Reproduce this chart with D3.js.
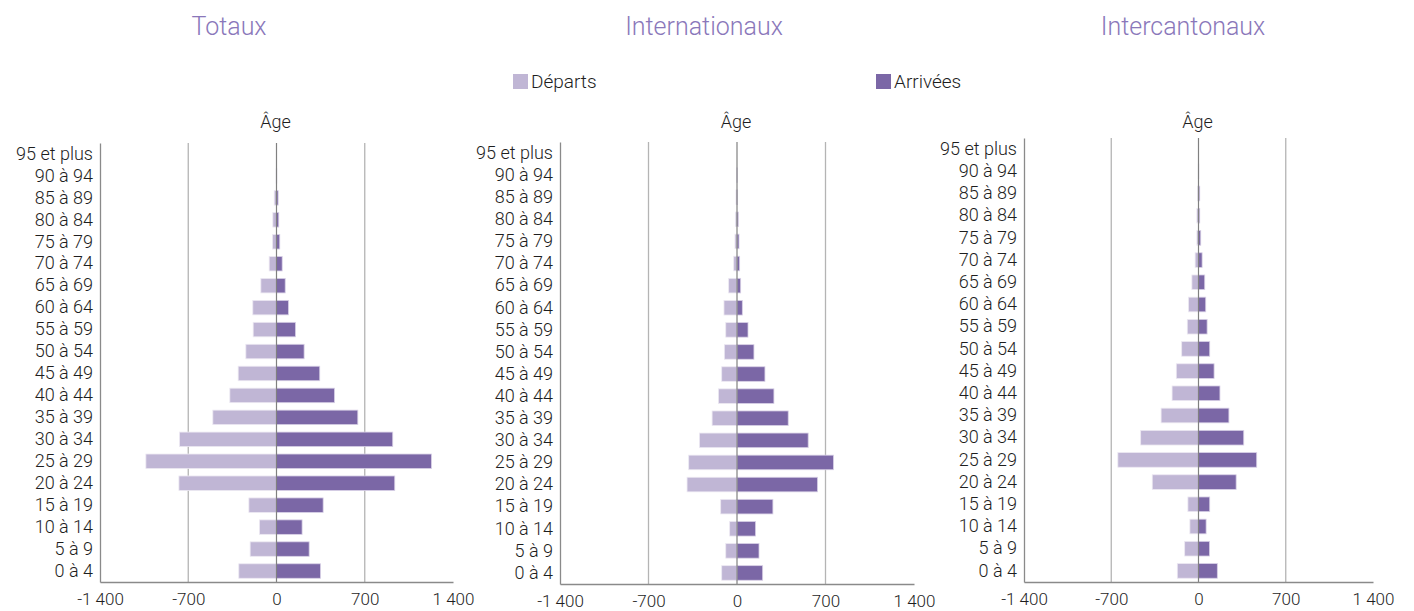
<!DOCTYPE html>
<html><head><meta charset="utf-8">
<script src="https://cdn.jsdelivr.net/npm/d3@7"></script>
<style>
body{margin:0;background:#fff;}
text{font-family:Roboto,"Liberation Sans",Arial,sans-serif;font-weight:300;fill:#1e1e1e;}
</style></head>
<body>
<svg id="chart" width="1414" height="611"></svg>
<script>
const categories = ["0 à 4","5 à 9","10 à 14","15 à 19","20 à 24","25 à 29","30 à 34","35 à 39","40 à 44","45 à 49","50 à 54","55 à 59","60 à 64","65 à 69","70 à 74","75 à 79","80 à 84","85 à 89","90 à 94","95 et plus"];
const panelTitles = ["Totaux","Internationaux","Intercantonaux"];
const seriesNames = ["Départs","Arrivées"];
const tickValues = [-1400,-700,0,700,1400];
const xDomain = [-1400,1400];

// Totaux
const totDeparts  = [299,209,135,219,774,1036,769,505,370,304,243,185,188,124,58,32,29,18,3,0];
const totArrivees = [349,259,203,370,938,1229,922,645,460,343,219,151,95,69,45,26,18,13,2,0];
// Internationaux
const intDeparts  = [121,89,58,129,395,382,297,197,147,121,100,89,103,66,26,16,13,8,1,0];
const intArrivees = [203,174,147,284,637,763,563,405,292,221,134,87,42,29,21,16,10,5,1,0];
// Intercantonaux
const icDeparts   = [170,111,69,85,371,647,464,300,212,178,135,90,80,53,27,13,13,8,2,0];
const icArrivees  = [151,88,61,90,302,467,363,244,172,125,90,69,58,50,29,18,10,10,2,0];

const panelData = [[totDeparts,totArrivees],[intDeparts,intArrivees],[icDeparts,icArrivees]];

const colors = {dep:"#c0b6d5", arr:"#7b67a6"};
const titleColor = "#8a77ba";

// layout (pixels)
const panels = [
  {x0:100, x1:453, y0:143, y1:582, tx:229},
  {x0:560, x1:914, y0:142, y1:584, tx:704},
  {x0:1024, x1:1373, y0:138, y1:582, tx:1183}
];

const svg = d3.select("#chart");
const loc = d3.formatLocale({decimal:",", thousands:"\u00a0", grouping:[3], currency:["","CHF"], minus:"-"});
const fmt = loc.format(",d");

panels.forEach((p,i)=>{
  const g = svg.append("g");
  const x = d3.scaleLinear().domain(xDomain).range([p.x0,p.x1]);
  const y = d3.scaleBand().domain(categories.slice().reverse()).range([p.y0,p.y1]).paddingInner(0.34).paddingOuter(0.17);

  g.append("text").attr("x",p.tx).attr("y",35).attr("text-anchor","middle")
    .style("font-size","25px").style("fill",titleColor).style("font-weight",300)
    .text(panelTitles[i]);

  // gridlines
  [-700,700].forEach(v=>{
    g.append("line").attr("x1",x(v)).attr("x2",x(v)).attr("y1",p.y0).attr("y2",p.y1)
      .attr("stroke","#b4b4b4").attr("stroke-width",1.3);
  });

  const [dep,arr] = panelData[i];
  g.selectAll("rect.dep").data(categories).enter().append("rect")
    .attr("x",(c,k)=>x(-dep[k])).attr("width",(c,k)=>x(0)-x(-dep[k]))
    .attr("y",c=>y(c)).attr("height",y.bandwidth())
    .attr("fill",colors.dep).attr("stroke","#ece8f2").attr("stroke-width",0.8);
  g.selectAll("rect.arr").data(categories).enter().append("rect")
    .attr("x",x(0)).attr("width",(c,k)=>x(arr[k])-x(0))
    .attr("y",c=>y(c)).attr("height",y.bandwidth())
    .attr("fill",colors.arr).attr("stroke","#d8d0e6").attr("stroke-width",0.8);

  // zero line
  g.append("line").attr("x1",x(0)).attr("x2",x(0)).attr("y1",p.y0).attr("y2",p.y1)
    .attr("stroke","#808080").attr("stroke-width",1.2);

  // axes
  const xAxis = d3.axisBottom(x).tickValues(tickValues).tickFormat(fmt).tickSize(0).tickPadding(11);
  const ax = g.append("g").attr("transform",`translate(0,${p.y1})`).call(xAxis);
  ax.select(".domain").attr("stroke","#8a8a8a").attr("stroke-width",1.3);
  ax.selectAll("text").style("font-size","17px").style("fill","#1e1e1e").style("font-family","Roboto,'Liberation Sans',sans-serif").style("font-weight",300);

  const yAxis = d3.axisLeft(y).tickSize(0).tickPadding(7);
  const ay = g.append("g").attr("transform",`translate(${p.x0},0)`).call(yAxis);
  ay.select(".domain").attr("stroke","#8a8a8a").attr("stroke-width",1.3);
  ay.selectAll("text").style("font-size","18px").style("fill","#1e1e1e").style("font-family","Roboto,'Liberation Sans',sans-serif").style("font-weight",300);

  g.append("text").attr("x",x(0)-1).attr("y",128).attr("text-anchor","middle")
    .style("font-size","18px").text("Âge");
});

// legend
const legendItems = [{name:seriesNames[0],color:colors.dep,x:513},{name:seriesNames[1],color:colors.arr,x:876}];
legendItems.forEach(l=>{
  svg.append("rect").attr("x",l.x).attr("y",74).attr("width",15).attr("height",15).attr("fill",l.color);
  svg.append("text").attr("x",l.x+18).attr("y",88).style("font-size","19px").text(l.name);
});
</script>
</body></html>
